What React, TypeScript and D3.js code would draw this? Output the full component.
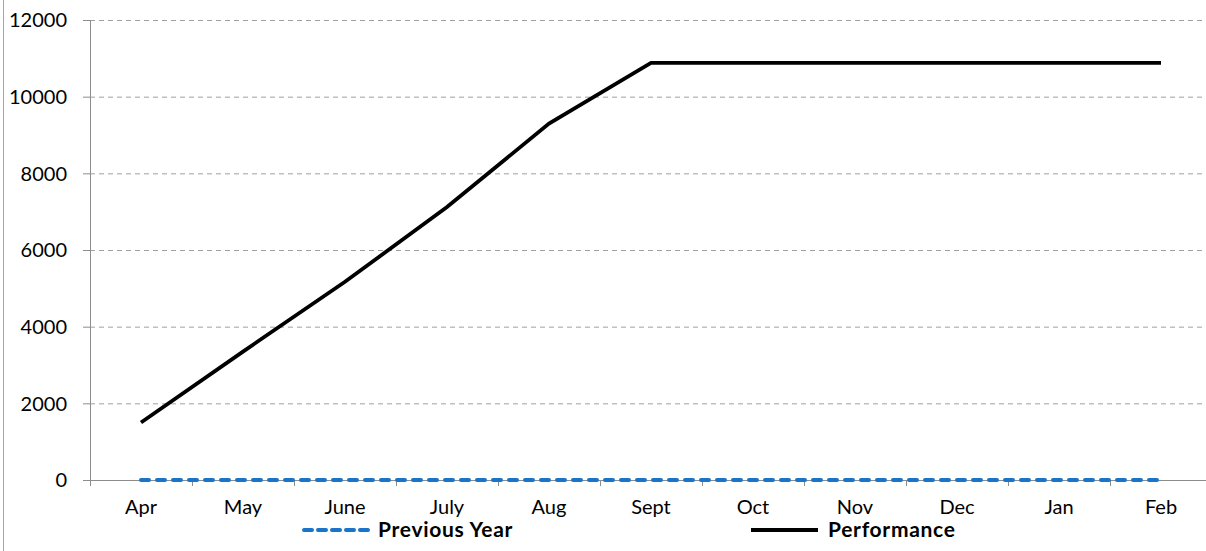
import React from "react";
import * as d3 from "d3";

const months = ["Apr", "May", "June", "July", "Aug", "Sept", "Oct", "Nov", "Dec", "Jan", "Feb"];
const performance = [1500, 3350, 5170, 7120, 9300, 10880, 10880, 10880, 10880, 10880, 10880];
const previousYear = [0, 0, 0, 0, 0, 0, 0, 0, 0, 0, 0];
const yTicks = [0, 2000, 4000, 6000, 8000, 10000, 12000];

const W = 1206;
const H = 551;
const FONT = "Lato, 'Open Sans', sans-serif";

export default function App() {
  const x = d3.scaleBand<string>().domain(months).range([90, 1212]).padding(0);
  const y = d3.scaleLinear().domain([0, 12000]).range([480, 20]);
  const cx = (m: string) => (x(m) as number) + x.bandwidth() / 2;

  const line = d3
    .line<number>()
    .x((_, i) => cx(months[i]))
    .y((d) => y(d));

  const tickXs = months.map((m) => x(m) as number);

  return (
    <svg
      width={W}
      height={H}
      style={{ position: "absolute", left: 0, top: 0, background: "#fff" }}
    >
      <line x1={3.5} x2={3.5} y1={0} y2={H} stroke="#a6a6a6" strokeWidth={1} />
      {yTicks.map((t) => (
        <g key={t}>
          {t !== 0 && (
            <line
              x1={90}
              x2={W}
              y1={y(t) + 0.5}
              y2={y(t) + 0.5}
              stroke="#a0a0a0"
              strokeWidth={1}
              strokeDasharray="5 4"
            />
          )}
          <line x1={83} x2={90} y1={y(t) + 0.5} y2={y(t) + 0.5} stroke="#8c8c8c" />
          <text
            x={67}
            y={y(t)}
            dy="0.36em"
            textAnchor="end"
            fontFamily={FONT}
            fontSize={20}
            fill="#000"
          >
            {t}
          </text>
        </g>
      ))}
      <line x1={90.5} x2={90.5} y1={20} y2={480} stroke="#8c8c8c" strokeWidth={1} />
      <line x1={90} x2={W} y1={480.5} y2={480.5} stroke="#8c8c8c" strokeWidth={1} />
      {tickXs.map((tx, i) => (
        <line key={i} x1={tx + 0.5} x2={tx + 0.5} y1={480} y2={486} stroke="#8c8c8c" />
      ))}
      {months.map((m) => (
        <text
          key={m}
          x={cx(m)}
          y={514}
          textAnchor="middle"
          fontFamily={FONT}
          fontSize={20}
          fill="#000"
        >
          {m}
        </text>
      ))}
      <path
        d={line(performance) || ""}
        fill="none"
        stroke="#000"
        strokeWidth={3.8}
        strokeLinejoin="miter"
      />
      <path
        d={line(previousYear) || ""}
        fill="none"
        stroke="#1a75c8"
        strokeWidth={4}
        strokeDasharray="8 8"
        strokeLinecap="round"
      />
      {/* legend */}
      <line
        x1={304}
        x2={370}
        y1={530}
        y2={530}
        stroke="#1a75c8"
        strokeWidth={4}
        strokeDasharray="8 6"
        strokeLinecap="round"
      />
      <text
        x={378}
        y={537}
        fontFamily={FONT}
        fontSize={21}
        fontWeight="bold"
        letterSpacing={0.7}
        fill="#000"
      >
        Previous Year
      </text>
      <line x1={751} x2={818} y1={530} y2={530} stroke="#000" strokeWidth={3.8} />
      <text
        x={828}
        y={537}
        fontFamily={FONT}
        fontSize={21}
        fontWeight="bold"
        letterSpacing={0.7}
        fill="#000"
      >
        Performance
      </text>
    </svg>
  );
}
